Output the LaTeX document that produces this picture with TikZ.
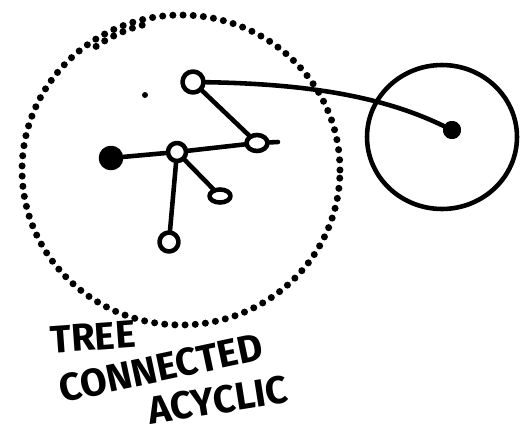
\documentclass[tikz,border=0pt]{standalone}
\usepackage{fontspec}
\setmainfont{Fira Sans}
\usetikzlibrary{shapes.geometric,positioning}

\begin{document}
\begin{tikzpicture}[x=0.02cm, y=-0.02cm, line width=2.6pt, line cap=round, line join=round]
  % Styles
  \tikzstyle{hollow} = [circle, draw, inner sep=0pt, minimum size=0.36cm]
  \tikzstyle{blob} = [circle, draw, fill=black, inner sep=0pt, minimum size=0.36cm]
  \tikzstyle{ringdot} = [circle, draw, line width=5.5pt, fill=white, inner sep=0pt, minimum size=0.18cm]
  \tikzstyle{loopy} = [ellipse, draw, inner sep=0pt, minimum width=0.42cm, minimum height=0.26cm]
  \tikzstyle{dotline} = [line width=4pt, line cap=round, dash pattern=on 0pt off 5.8pt]
  \tikzstyle{scrawl} = [font=\bfseries\fontsize{22}{22}\selectfont, inner sep=0pt]

  \useasboundingbox (0,0) rectangle (527,433);

  % Regions
  \coordinate (hub) at (181,170);
  \draw[dotline] (hub) ellipse [x radius=3.18cm, y radius=3.1cm];
  \draw[dotline] (hub) ++(105:3.0cm) arc[start angle=105, end angle=126, radius=3.0cm];
  \node[blob, draw=none, minimum size=0.12cm] (speck) at (145,95) {};
  \coordinate (island) at (442,137);
  \draw (island) ellipse [x radius=1.5cm, y radius=1.44cm];

  % Nodes
  \node[hollow, minimum size=0.42cm] (root) at (193,82) {};
  \node[loopy, minimum height=0.32cm] (elbow) at (257,143) {};
  \node[hollow] (mid) at (177,152) {};
  \node[blob, minimum size=0.4cm] (leftleaf) at (111,158) {};
  \node[loopy] (smallleaf) at (220,196) {};
  \node[hollow, minimum size=0.38cm] (lowleaf) at (169,242) {};
  \node[ringdot] (far) at (452,130) {};
  \coordinate (elbowtail) at (278,142);

  % Paths / Edges
  \draw (root) -- (elbow);
  \draw (elbow) -- (mid);
  \draw (elbow) -- (elbowtail);
  \draw (mid) -- (leftleaf);
  \draw (mid) -- (smallleaf);
  \draw (mid) -- (lowleaf);
  \draw (root) .. controls (320,84) and (390,100) .. (far);

  % Labels
  \node[scrawl, rotate=4] (tree) at (93,337) {TREE};
  \node[scrawl, rotate=12] (conn) at (161,368) {CONNECTED};
  \node[scrawl, rotate=9] (acyc) at (218,400) {ACYCLIC};

\end{tikzpicture}
\end{document}
